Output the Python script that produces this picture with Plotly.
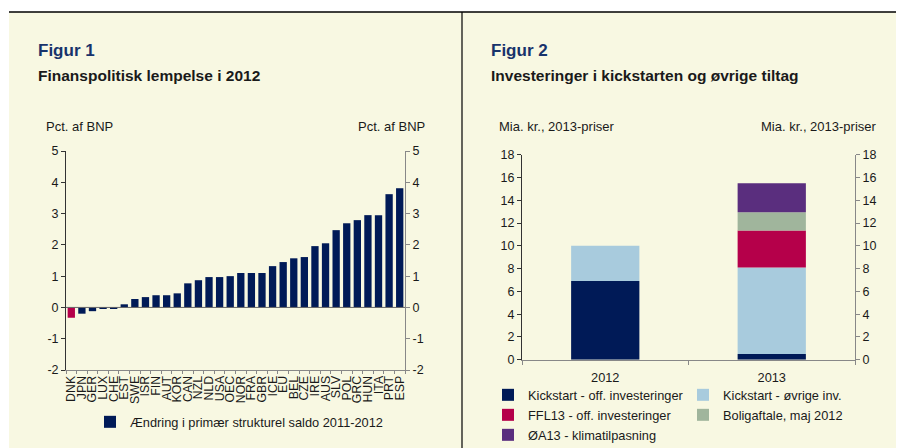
import plotly.graph_objects as go

# page body adds an 8px margin; lay out the figure so that page pixels match
OFF = 8
W, H = 904 - OFF, 448 - OFF
def px(x): return (x - OFF) / W
def py(y): return 1 - (y - OFF) / H

# ---------- data ----------
countries = ["DNK", "JPN", "GER", "LUX", "CHE", "EST", "SWE", "ISR", "FIN", "AUT", "KOR",
             "CAN", "NZL", "NLD", "USA", "OEC", "NOR", "FRA", "GBR", "ICE", "EU", "BEL",
             "CZE", "IRE", "AUS", "SLV", "POL", "GRC", "HUN", "ITA", "PRT", "ESP"]
saldo = [-0.33, -0.20, -0.12, -0.05, -0.02, 0.10, 0.27, 0.33, 0.39, 0.39, 0.45,
         0.77, 0.87, 0.97, 0.97, 1.00, 1.10, 1.10, 1.10, 1.32, 1.45, 1.57,
         1.61, 1.96, 2.05, 2.47, 2.69, 2.79, 2.95, 2.95, 3.62, 3.81]
highlight = "DNK"
left_ticks = [-2, -1, 0, 1, 2, 3, 4, 5]
left_tick_labels = ["-2", "-1", "0", "1", "2", "3", "4", "5"]

years = ["2012", "2013"]
kick_off = [6.9, 0.5]
kick_ovr = [3.1, 7.6]
ffl13 = [0, 3.25]
bolig = [0, 1.6]
oa13 = [0, 2.55]
right_ticks = [0, 2, 4, 6, 8, 10, 12, 14, 16, 18]

NAVY = "#001A57"
RED = "#B5004A"
LBLUE = "#A8CBDD"
GREEN = "#A0B59C"
PURPLE = "#5A2E7E"
CREAM = "#F8F8E2"
TXT = "#1a1a1a"
FONT = "Liberation Sans, Arial, sans-serif"

fig = go.Figure()

# ---------- left chart ----------
main_x = [c for c in countries if c != highlight]
main_y = [v for c, v in zip(countries, saldo) if c != highlight]
hl_y = [v for c, v in zip(countries, saldo) if c == highlight]

fig.add_trace(go.Bar(x=main_x, y=main_y, marker_color=NAVY, width=0.69,
                     name="Ændring i primær strukturel saldo 2011-2012",
                     xaxis="x", yaxis="y", legend="legend"))
fig.add_trace(go.Bar(x=[highlight], y=hl_y, marker_color=RED, width=0.69,
                     showlegend=False, xaxis="x", yaxis="y"))
fig.add_trace(go.Scatter(x=[countries[0]], y=[0], mode="markers", opacity=0,
                         showlegend=False, hoverinfo="skip", xaxis="x", yaxis="y2"))

# ---------- right chart ----------
series = [("Kickstart - off. investeringer", kick_off, NAVY, "legend2"),
          ("Kickstart - øvrige inv.", kick_ovr, LBLUE, "legend2"),
          ("FFL13 - off. investeringer", ffl13, RED, "legend3"),
          ("Boligaftale, maj 2012", bolig, GREEN, "legend3"),
          ("ØA13 - klimatilpasning", oa13, PURPLE, "legend4")]
for name, vals, col, lg in series:
    fig.add_trace(go.Bar(x=years, y=vals, name=name, marker_color=col, width=0.41,
                         xaxis="x3", yaxis="y3", legend=lg))
fig.add_trace(go.Scatter(x=[years[0]], y=[0], mode="markers", opacity=0,
                         showlegend=False, hoverinfo="skip", xaxis="x3", yaxis="y4"))

tickfont = dict(family=FONT, size=12.5, color=TXT)

yl_common = dict(range=[-2, 5], tickmode="array", tickvals=left_ticks,
                 ticktext=left_tick_labels, showgrid=False, zeroline=False,
                 showline=True, ticks="outside", ticklen=4, tickfont=tickfont,
                 domain=[py(370), py(151)])
yr_common = dict(range=[0, 18], tickmode="array", tickvals=right_ticks,
                 showgrid=False, zeroline=False,
                 showline=True, ticks="outside", ticklen=4, tickfont=tickfont,
                 domain=[py(359.7), py(154.7)])

legfont = dict(family=FONT, size=12.8, color=TXT)

fig.update_layout(
    template="none",
    width=W, height=H,
    margin=dict(l=0, r=0, t=0, b=0, autoexpand=False),
    paper_bgcolor="white", plot_bgcolor="rgba(0,0,0,0)",
    barmode="relative",
    font=dict(family=FONT, size=12, color=TXT),
    xaxis=dict(domain=[px(66), px(405)], type="category", range=[-0.5, len(countries) - 0.5],
               categoryorder="array", categoryarray=countries,
               tickmode="array", tickvals=countries, ticktext=countries,
               tickangle=-90, tickfont=dict(family=FONT, size=12.3, color=TXT),
               showline=True, linecolor="#888888", linewidth=1,
               ticks="outside", ticklen=3, tickcolor="#888888", tickson="boundaries",
               showgrid=False, zeroline=False, anchor="y", automargin=False),
    yaxis=dict(**yl_common, linecolor="#333333", tickcolor="#333333", side="left",
               anchor="x", automargin=False),
    yaxis2=dict(**{k: v for k, v in yl_common.items() if k != "domain"},
                linecolor="#888888", tickcolor="#888888", side="right",
                overlaying="y", anchor="x", automargin=False),
    xaxis3=dict(domain=[px(522), px(855)], type="category", range=[-0.5, 1.5],
                tickfont=dict(family=FONT, size=12.8, color=TXT),
                showline=True, linecolor="#888888", linewidth=1,
                ticks="outside", ticklen=4, tickcolor="#888888", tickson="boundaries",
                ticklabelstandoff=6,
                showgrid=False, zeroline=False, anchor="y3", automargin=False),
    yaxis3=dict(**yr_common, linecolor="#333333", tickcolor="#333333", side="left",
                anchor="x3", automargin=False),
    yaxis4=dict(**{k: v for k, v in yr_common.items() if k != "domain"},
                linecolor="#888888", tickcolor="#888888", side="right",
                overlaying="y3", anchor="x3", automargin=False),
    legend=dict(orientation="h", x=px(239), xanchor="center", y=py(422), yanchor="middle",
                bgcolor="rgba(0,0,0,0)", font=legfont, traceorder="normal"),
    legend2=dict(orientation="h", x=px(488), xanchor="left", y=py(395), yanchor="middle",
                 bgcolor="rgba(0,0,0,0)", font=legfont,
                 entrywidth=150, entrywidthmode="pixels", traceorder="normal"),
    legend3=dict(orientation="h", x=px(488), xanchor="left", y=py(415), yanchor="middle",
                 bgcolor="rgba(0,0,0,0)", font=legfont,
                 entrywidth=150, entrywidthmode="pixels", traceorder="normal"),
    legend4=dict(orientation="h", x=px(488), xanchor="left", y=py(435), yanchor="middle",
                 bgcolor="rgba(0,0,0,0)", font=legfont,
                 entrywidth=150, entrywidthmode="pixels", traceorder="normal"),
    shapes=[
        dict(type="rect", xref="paper", yref="paper", x0=px(9), x1=1, y0=0, y1=py(12),
             fillcolor=CREAM, line_width=0, layer="below"),
        dict(type="line", xref="paper", yref="paper", x0=px(9), x1=1, y0=py(12), y1=py(12),
             line=dict(color="black", width=1.5), layer="above"),
        dict(type="line", xref="paper", yref="paper", x0=px(462), x1=px(462), y0=0, y1=py(12),
             line=dict(color="black", width=1.2), layer="above"),
        dict(type="line", xref="x domain", yref="y", x0=0, x1=1, y0=0, y1=0,
             line=dict(color="#666666", width=1), layer="above"),
    ],
)

ann = []
def text(x, y, s, size=12, color=TXT, bold=False, anchor="left"):
    ann.append(dict(xref="paper", yref="paper", x=px(x), y=py(y),
                    text=f"<b>{s}</b>" if bold else s,
                    showarrow=False, xanchor=anchor, yanchor="middle",
                    font=dict(family=FONT, size=size, color=color)))

text(36, 50, "Figur 1", size=17, color="#17336B", bold=True)
text(36, 75, "Finanspolitisk lempelse i 2012", size=15.5, bold=True)
text(44, 126, "Pct. af BNP", size=13)
text(427, 126, "Pct. af BNP", size=13, anchor="right")
text(489, 50, "Figur 2", size=17, color="#17336B", bold=True)
text(489, 75, "Investeringer i kickstarten og øvrige tiltag", size=15.5, bold=True)
text(497, 126, "Mia. kr., 2013-priser", size=13)
text(879, 126, "Mia. kr., 2013-priser", size=13, anchor="right")
fig.update_layout(annotations=ann)

fig.write_html("out.html")
